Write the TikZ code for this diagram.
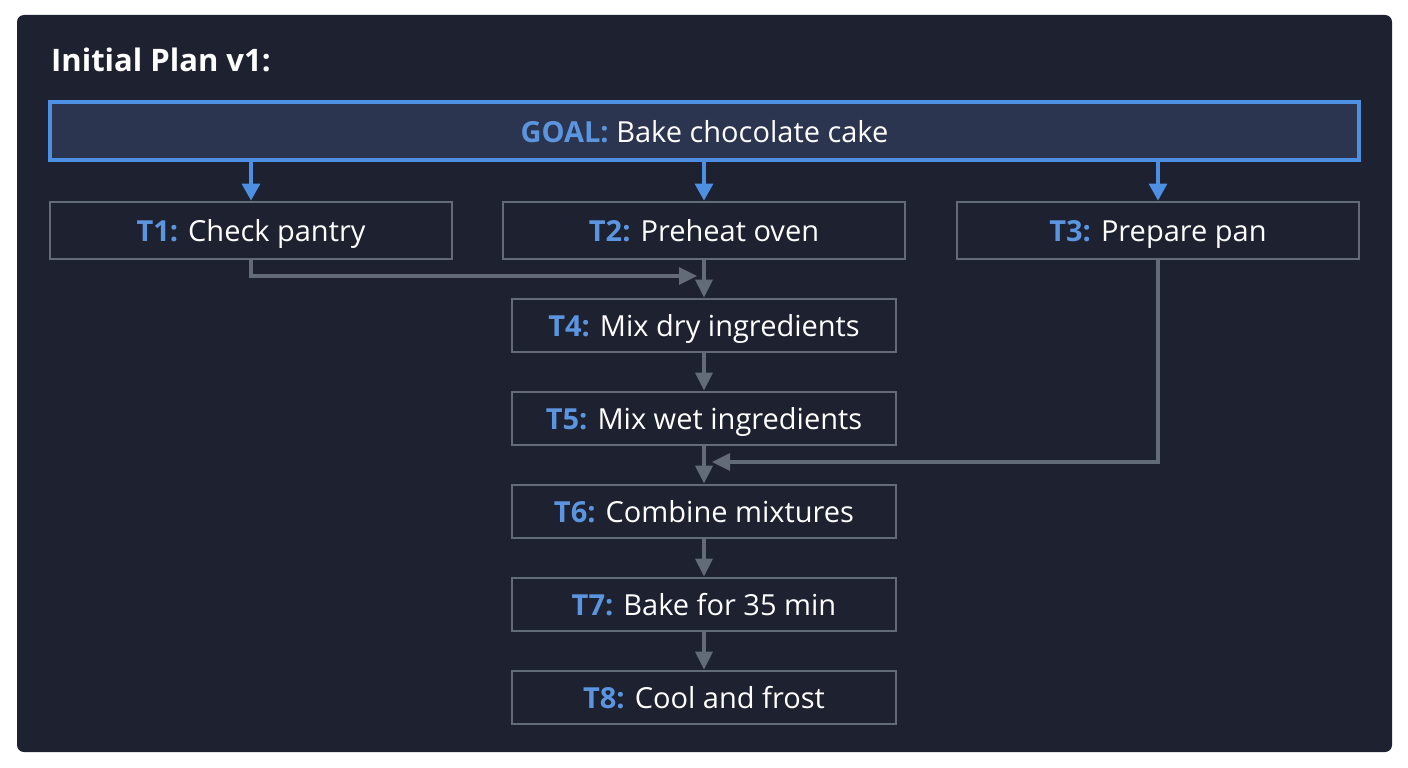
\documentclass[tikz,border=0pt]{standalone}
\usepackage{fontspec}
\setmainfont{Open Sans}
\usetikzlibrary{arrows.meta}
\definecolor{panelbg}{HTML}{1E2130}
\definecolor{goalfill}{HTML}{2C3550}
\definecolor{goalblue}{HTML}{4D8FE3}
\definecolor{taskline}{HTML}{646B78}
\definecolor{labelblue}{HTML}{5B95DF}
\tikzset{
  goalbox/.style={draw=goalblue, line width=3.2pt, fill=goalfill, inner sep=0pt,
                  minimum width=1309pt, minimum height=58pt, text=white,
                  text height=22pt, text depth=0pt,
                  font=\fontsize{29}{34}\selectfont},
  taskbox/.style={draw=taskline, line width=2.8pt, inner sep=0pt,
                  minimum height=53pt, text=white,
                  text height=22pt, text depth=0pt,
                  font=\fontsize{29}{34}\selectfont},
  topbox/.style={taskbox, minimum width=402pt, minimum height=57pt},
  midbox/.style={taskbox, minimum width=384pt},
  goalarrow/.style={goalblue, line width=3.2pt,
                    -{Triangle[width=18pt,length=17pt]}},
  taskarrow/.style={taskline, line width=3.4pt,
                    -{Triangle[width=17pt,length=18pt]}},
}
\newcommand{\tag}[1]{\textcolor{labelblue}{\textbf{#1}}}
\begin{document}
\begin{tikzpicture}[x=1pt,y=-1pt]%{{{
\useasboundingbox (0,0) rectangle (1408,768);
\fill [white] (0,0) rectangle (1408,768);
%
% Panneau
\fill [panelbg, rounded corners=7pt] (17,15) rectangle (1392,752);
\node [anchor=base west, text=white, inner sep=0pt,
       font=\fontsize{31}{38}\selectfont\bfseries] (title) at (51,71) {Initial Plan v1:};
%
% But
\node [goalbox] (goal) at (704.5,131) {\tag{GOAL:} Bake chocolate cake};
%
% Taches du haut
\node [topbox] (t1) at (251,230.5)  {\tag{T1:} Check pantry};
\node [topbox] (t2) at (704,230.5)  {\tag{T2:} Preheat oven};
\node [topbox] (t3) at (1158,230.5) {\tag{T3:} Prepare pan};
%
% Chaine centrale
\node [midbox] (t4) at (704,325.5) {\tag{T4:} Mix dry ingredients};
\node [midbox] (t5) at (704,418.5) {\tag{T5:} Mix wet ingredients};
\node [midbox] (t6) at (704,511.5) {\tag{T6:} Combine mixtures};
\node [midbox] (t7) at (704,604.5) {\tag{T7:} Bake for 35 min};
\node [midbox] (t8) at (704,697.5) {\tag{T8:} Cool and frost};
%
% Fleches du but
\draw [goalarrow] (goal.south -| t1.north) -- (t1.north);
\draw [goalarrow] (goal.south -| t2.north) -- (t2.north);
\draw [goalarrow] (goal.south -| t3.north) -- (t3.north);
%
% Dependances
\coordinate (j1) at (697,276);
\coordinate (j3) at (712,462);
\draw [taskarrow] (t1.south) |- (j1);
\draw [taskarrow] (t2.south) -- (t4.north);
\draw [taskarrow] (t4.south) -- (t5.north);
\draw [taskarrow] (t3.south) |- (j3);
\draw [taskarrow] (t5.south) -- (t6.north);
\draw [taskarrow] (t6.south) -- (t7.north);
\draw [taskarrow] (t7.south) -- (t8.north);
%
\end{tikzpicture}
\end{document}
